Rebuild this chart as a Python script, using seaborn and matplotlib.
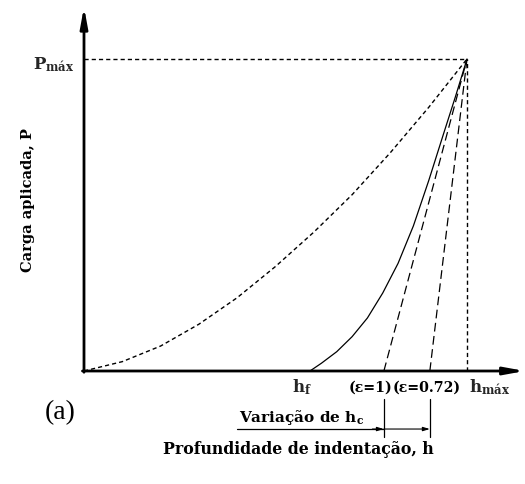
import matplotlib
matplotlib.use("Agg")
import matplotlib.pyplot as plt
import numpy as np
import pandas as pd
import seaborn as sns

# ---- data (normalised: h / h_max, P / P_max) ----
load_h = [0.0, 0.1, 0.2, 0.3, 0.4, 0.5, 0.6, 0.7, 0.8, 0.9, 1.0]
load_P = [0.0, 0.03, 0.08, 0.15, 0.235, 0.335, 0.445, 0.565, 0.70, 0.845, 1.0]

unload_h = [0.590, 0.62, 0.66, 0.70, 0.74, 0.78, 0.82, 0.86, 0.90, 0.94, 0.97, 1.0]
unload_P = [0.0, 0.025, 0.062, 0.11, 0.17, 0.25, 0.345, 0.465, 0.61, 0.765, 0.88, 1.0]

h_f = 0.590
h_eps1 = 0.783
h_eps072 = 0.903
h_max = 1.0
P_max = 1.0

tangent1_h = [h_eps1, h_max]
tangent1_P = [0.0, P_max]
tangent2_h = [h_eps072, h_max]
tangent2_P = [0.0, P_max]
guide_h_h = [0.0, h_max]
guide_h_P = [P_max, P_max]
guide_v_h = [h_max, h_max]
guide_v_P = [0.0, P_max]

sns.set_theme(style="white")
plt.rcParams["font.family"] = ["DejaVu Serif"]
plt.rcParams["mathtext.fontset"] = "dejavuserif"

fig = plt.figure(figsize=(5.25, 4.85), dpi=100)
ax = fig.add_axes([0, 0, 1, 1])
ax.set_xlim(-84 / 383, 441 / 383)
ax.set_ylim(-113 / 312, 372 / 312)
ax.axis("off")

dot = (0, (3, 2.2))
dash = (0, (7, 3.6))

sns.lineplot(x=load_h, y=load_P, ax=ax, color="black", lw=1.0, linestyle=dot,
             sort=False, estimator=None)
sns.lineplot(x=guide_h_h, y=guide_h_P, ax=ax, color="black", lw=1.0, linestyle=dot,
             sort=False, estimator=None)
sns.lineplot(x=guide_v_h, y=guide_v_P, ax=ax, color="black", lw=1.0, linestyle=dot,
             sort=False, estimator=None)
sns.lineplot(x=tangent1_h, y=tangent1_P, ax=ax, color="black", lw=0.9, linestyle=dash,
             sort=False, estimator=None)
sns.lineplot(x=tangent2_h, y=tangent2_P, ax=ax, color="black", lw=0.9, linestyle=dash,
             sort=False, estimator=None)
sns.lineplot(x=unload_h, y=unload_P, ax=ax, color="black", lw=0.9,
             sort=False, estimator=None)

# axes with arrows
arrow_kw = dict(arrowstyle="-|>,head_length=1.2,head_width=0.22", lw=2.0,
                color="black", mutation_scale=10, shrinkA=0, shrinkB=0)
ax.annotate("", xy=(0, 1.167), xytext=(0, -0.004), arrowprops=arrow_kw)
ax.annotate("", xy=(1.151, 0), xytext=(-0.004, 0), arrowprops=arrow_kw)

# bottom annotation for h_c variation
ax.plot([0.40, h_eps1], [-0.186, -0.186], color="black", lw=0.9)
ax.plot([h_eps1, h_eps1], [-0.09, -0.212], color="black", lw=0.9)
ax.plot([h_eps072, h_eps072], [-0.09, -0.212], color="black", lw=0.9)
small = dict(arrowstyle="-|>,head_length=0.5,head_width=0.15", lw=0.8,
             color="black", mutation_scale=8, shrinkA=0, shrinkB=0)
ax.annotate("", xy=(h_eps072, -0.186), xytext=(h_eps1, -0.186), arrowprops=small)
ax.annotate("", xy=(h_eps1, -0.186), xytext=(h_eps1 - 0.03, -0.186), arrowprops=small)

# texts
bold = dict(fontweight="bold", color="black")
ax.text(-0.08, 0.985, r"$\mathbf{P}_{\mathbf{máx}}$", ha="center", va="center", fontsize=12)
ax.text(-0.146, 0.55, "Carga aplicada, P", rotation=90, ha="center", va="center",
        fontsize=10.5, **bold)
ax.text(0.559, -0.25, "Profundidade de indentação, h", ha="center", va="center",
        fontsize=11.3, **bold)
ax.text(-0.062, -0.13, "(a)", ha="center", va="center", fontsize=20,
        family=["Liberation Serif"], color="black")
ax.text(0.570, -0.05, r"$\mathbf{h}_{\mathbf{f}}$", ha="center", va="center", fontsize=12)
ax.text(0.747, -0.05, "(ε=1)", ha="center", va="center", fontsize=10.2, **bold)
ax.text(0.895, -0.05, "(ε=0.72)", ha="center", va="center", fontsize=10.2, **bold)
ax.text(1.060, -0.05, r"$\mathbf{h}_{\mathbf{máx}}$", ha="center", va="center", fontsize=12)
ax.text(0.405, -0.145, r"Variação de $\mathbf{h}_{\mathbf{c}}$", ha="left", va="center",
        fontsize=11, **bold)

fig.savefig("out.png", dpi=100, facecolor="white")
